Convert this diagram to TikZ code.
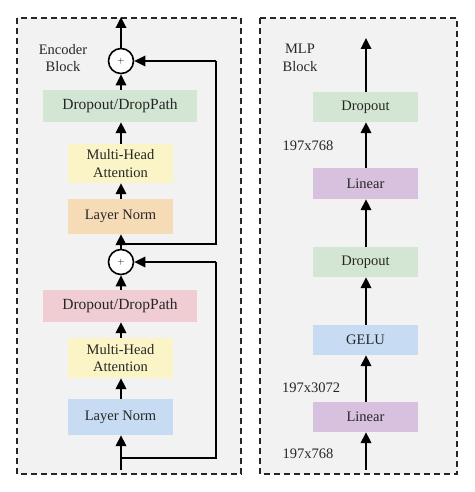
\documentclass[tikz,border=0pt]{standalone}
\usepackage{fontspec}
\setmainfont{Liberation Serif}
\usetikzlibrary{arrows.meta}
\definecolor{cgreen}{HTML}{D3E6D3}
\definecolor{cyellow}{HTML}{FAF4C6}
\definecolor{corange}{HTML}{F6DCB6}
\definecolor{cpink}{HTML}{EFCDD3}
\definecolor{cblue}{HTML}{C7DCF2}
\definecolor{cpurple}{HTML}{D8C1DE}
\definecolor{cbg}{HTML}{F2F2F2}
\definecolor{ctext}{HTML}{262626}
\begin{document}
\begin{tikzpicture}[x=1pt,y=-1pt,
  frame/.style={draw=black!85,line width=1.6pt,dash pattern=on 6pt off 4pt,fill=cbg},
  blk/.style={draw=none,minimum height=#1,inner sep=0pt,align=center,font=\fontsize{14.5}{17.5}\selectfont,text=ctext},
  blk/.default=32pt,
  lbl/.style={font=\fontsize{14.5}{17.5}\selectfont,text=ctext,align=center,inner sep=0pt},
  sum/.style={circle,draw=black,line width=1.6pt,fill=white,minimum size=25pt,inner sep=0pt,font=\fontsize{9}{9}\selectfont},
  arr/.style={line width=1.8pt,-{Triangle[length=11pt,width=10.5pt]}},
  ln/.style={line width=1.8pt}]
\useasboundingbox (0,0) rectangle (474,492);
\draw[frame] (17,18) rectangle (241,474);
\draw[frame] (260,18) rectangle (457,474);
% Encoder
\node[lbl] (enclab) at (63,58) {Encoder\\Block};
\coordinate (etop) at (121,17);
\node[sum] (s1) at (121,61) {$+$};
\node[blk=32pt,minimum width=154pt,fill=cgreen,font=\fontsize{15.5}{17.5}\selectfont] (dp1) at (120,106) {Dropout/DropPath};
\node[blk=39pt,minimum width=105pt,fill=cyellow] (mha1) at (120.5,163.5) {Multi-Head\\Attention};
\node[blk=35pt,minimum width=105pt,fill=corange] (ln1) at (120.5,216.5) {Layer Norm};
\node[sum] (s2) at (121,262) {$+$};
\node[blk=32pt,minimum width=154pt,fill=cpink,font=\fontsize{15.5}{17.5}\selectfont] (dp2) at (120,306) {Dropout/DropPath};
\node[blk=40pt,minimum width=105pt,fill=cyellow] (mha2) at (120.5,358) {Multi-Head\\Attention};
\node[blk=36pt,minimum width=105pt,fill=cblue] (ln2) at (120.5,417) {Layer Norm};
\coordinate (ebot) at (121,470);
\coordinate (r2a) at (121,458);
\coordinate (r2b) at (216,458);
\coordinate (r2c) at (216,262);
\coordinate (r1a) at (121,244);
\coordinate (r1b) at (216,244);
\coordinate (r1c) at (216,61);
\draw[arr] (ebot) -- (ln2.south -| ebot);
\draw[ln] (r2a) -- (r2b) -- (r2c);
\draw[arr] (r2c) -- (s2.east);
\draw[arr] (ln2.north -| ebot) -- (mha2.south -| ebot);
\draw[arr] (mha2.north -| ebot) -- (dp2.south -| ebot);
\draw[arr] (dp2.north -| ebot) -- (s2.south);
\draw[arr] (s2.north) -- (ln1.south -| ebot);
\draw[ln] (r1a) -- (r1b) -- (r1c);
\draw[arr] (r1c) -- (s1.east);
\draw[arr] (ln1.north -| ebot) -- (mha1.south -| ebot);
\draw[arr] (mha1.north -| ebot) -- (dp1.south -| ebot);
\draw[arr] (dp1.north -| ebot) -- (s1.south);
\draw[arr] (s1.north) -- (etop);
% MLP
\node[lbl] (mlplab) at (300,58) {MLP\\Block};
\coordinate (mtop) at (366,38);
\node[blk=30pt,minimum width=105pt,fill=cgreen] (mdo2) at (365.5,107) {Dropout};
\node[lbl] (d3) at (308,146) {197x768};
\node[blk=31pt,minimum width=105pt,fill=cpurple] (mlin2) at (365.5,183.5) {Linear};
\node[blk=30pt,minimum width=105pt,fill=cgreen] (mdo1) at (365.5,262) {Dropout};
\node[blk=30pt,minimum width=105pt,fill=cblue] (gelu) at (365.5,340) {GELU};
\node[lbl] (d2) at (311,388) {197x3072};
\node[blk=30pt,minimum width=105pt,fill=cpurple] (mlin1) at (365.5,417) {Linear};
\node[lbl] (d1) at (308,454) {197x768};
\coordinate (mbot) at (366,470);
\draw[arr] (mbot) -- (mlin1.south -| mbot);
\draw[arr] (mlin1.north -| mbot) -- (gelu.south -| mbot);
\draw[arr] (gelu.north -| mbot) -- (mdo1.south -| mbot);
\draw[arr] (mdo1.north -| mbot) -- (mlin2.south -| mbot);
\draw[arr] (mlin2.north -| mbot) -- (mdo2.south -| mbot);
\draw[arr] (mdo2.north -| mbot) -- (mtop);
\end{tikzpicture}
\end{document}
